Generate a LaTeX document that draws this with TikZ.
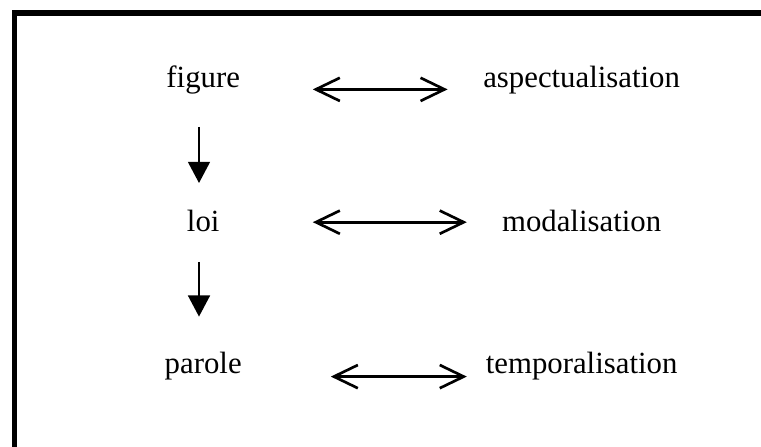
\documentclass[tikz,border=0pt]{standalone}
\usepackage{fontspec}
\setmainfont{Liberation Serif}
\usetikzlibrary{arrows.meta}

\begin{document}
\begin{tikzpicture}[
  word/.style={anchor=base, inner sep=0pt, font=\fontsize{21.9}{26}\selectfont},
  twoway/.style={line width=1.9pt, {Straight Barb[length=0.6cm,width=0.58cm]}-{Straight Barb[length=0.6cm,width=0.58cm]}},
  downarrow/.style={line width=1.3pt, -{Triangle[length=0.53cm,width=0.55cm]}}
]
\clip (0,0) rectangle (19.025,11.175);
% frame, only top and left edges are in view
\draw[line width=3.6pt] (0.3625,0) |- (19.025,10.85);

\node[word] (figure) at (5.08,8.975) {figure};
\node[word] (loi) at (5.08,5.375) {loi};
\node[word] (parole) at (5.08,1.825) {parole};

\node[word] (aspect) at (14.54,8.975) {aspectualisation};
\node[word] (modal) at (14.54,5.375) {modalisation};
\node[word] (tempo) at (14.54,1.825) {temporalisation};

% ends of the arrows
\coordinate (h1a) at (7.82,8.94);
\coordinate (h1b) at (11.19,8.94);
\coordinate (h2a) at (7.82,5.62);
\coordinate (h2b) at (11.67,5.62);
\coordinate (h3a) at (8.27,1.76);
\coordinate (h3b) at (11.67,1.76);
\coordinate (v1a) at (4.975,8.0);
\coordinate (v1b) at (4.975,6.6);
\coordinate (v2a) at (4.975,4.63);
\coordinate (v2b) at (4.975,3.26);

\foreach \i in {1,2,3} {
\draw[twoway] (h\i a) -- (h\i b);
}
\foreach \i in {1,2} {
\draw[downarrow] (v\i a) -- (v\i b);
}
\end{tikzpicture}
\end{document}
